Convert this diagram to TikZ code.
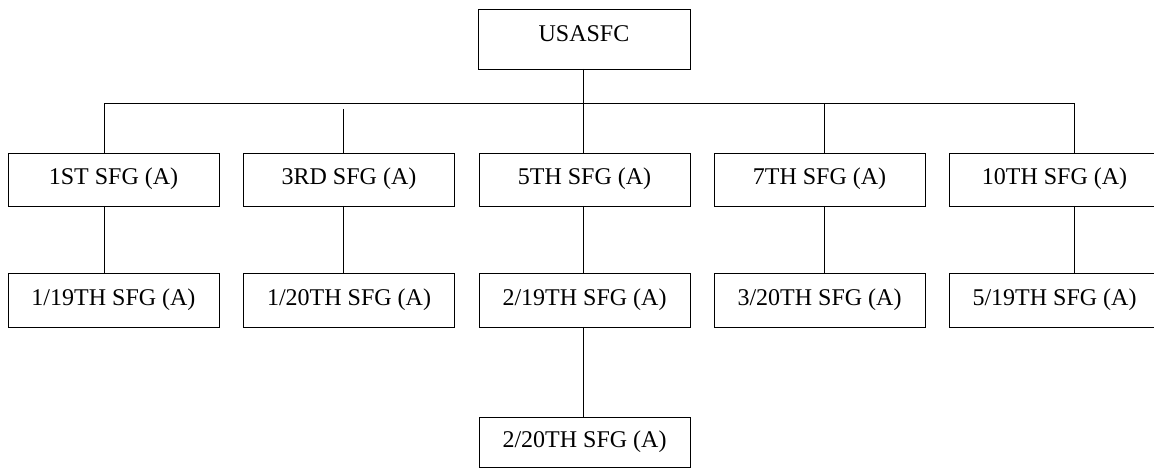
\documentclass[tikz,border=0pt]{standalone}
\usepackage{fontspec}
\setmainfont{Liberation Serif}
\begin{document}
\begin{tikzpicture}[x=1pt,y=1pt,
  unitbox/.style={draw, line width=0.9pt, inner sep=0pt, outer sep=0pt,
    minimum width=211pt, minimum height=54pt,
    font=\fontsize{24}{28}\selectfont, text height=16pt, text depth=5pt},
  link/.style={line width=0.9pt}]
\useasboundingbox (0,0) rectangle (1154,-470);
% connector x positions and bus levels
\coordinate (c1) at (104,0);
\coordinate (c2) at (343,0);
\coordinate (c3) at (583.5,0);
\coordinate (c4) at (824,0);
\coordinate (c5) at (1074,0);
\coordinate (bus) at (0,-103.5);
\coordinate (gap) at (0,-109);
% top
\node[unitbox, minimum width=212pt, minimum height=60pt, text depth=10pt] (top) at (584,-39) {USASFC};
% level 1
\node[unitbox, minimum height=53pt] (a1) at (113.5,-179.5) {1ST SFG (A)};
\node[unitbox, minimum height=53pt] (b1) at (349,-179.5) {3RD SFG (A)};
\node[unitbox, minimum height=53pt] (m1) at (584.5,-179.5) {5TH SFG (A)};
\node[unitbox, minimum height=53pt] (d1) at (819.5,-179.5) {7TH SFG (A)};
\node[unitbox, minimum height=53pt] (e1) at (1054.5,-179.5) {10TH SFG (A)};
% level 2
\node[unitbox] (a2) at (113.5,-300) {1/19TH SFG (A)};
\node[unitbox] (b2) at (349,-300) {1/20TH SFG (A)};
\node[unitbox] (m2) at (584.5,-300) {2/19TH SFG (A)};
\node[unitbox] (d2) at (819.5,-300) {3/20TH SFG (A)};
\node[unitbox] (e2) at (1054.5,-300) {5/19TH SFG (A)};
% level 3
\node[unitbox, minimum height=50pt] (m3) at (584.5,-442) {2/20TH SFG (A)};
% connectors
\draw[link] (a1.north -| c1) -- (c1 |- bus) -- (c5 |- bus) -- (e1.north -| c5);
\draw[link] (top.south -| c3) -- (m1.north -| c3);
\draw[link] (c2 |- gap) -- (b1.north -| c2);
\draw[link] (c4 |- bus) -- (d1.north -| c4);
\draw[link] (a1.south -| c1) -- (a2.north -| c1);
\draw[link] (b1.south -| c2) -- (b2.north -| c2);
\draw[link] (m1.south -| c3) -- (m2.north -| c3);
\draw[link] (d1.south -| c4) -- (d2.north -| c4);
\draw[link] (e1.south -| c5) -- (e2.north -| c5);
\draw[link] (m2.south -| c3) -- (m3.north -| c3);
\end{tikzpicture}
\end{document}
